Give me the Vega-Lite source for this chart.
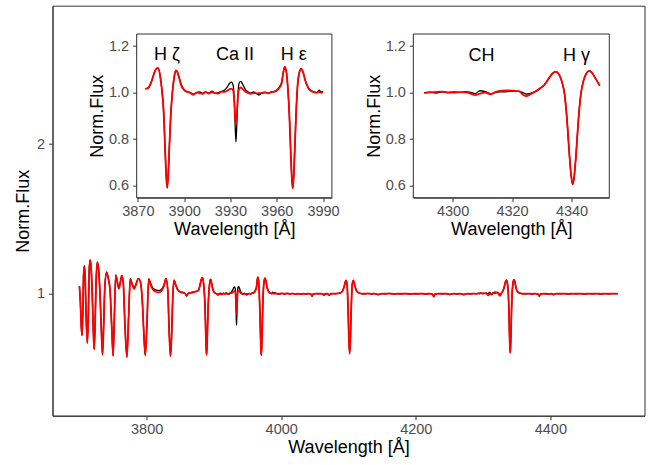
{
"$schema": "https://vega.github.io/schema/vega-lite/v6.json",
"width": 592, "height": 410,
"autosize": {"type": "none"},
"padding": {"left": 52.5, "top": 5.7, "right": 14.5, "bottom": 49.3},
"background": "white",
"config": {
  "view": {"stroke": "#333333", "strokeWidth": 1},
  "axis": {"grid": false, "domainColor": "#333333", "tickColor": "#333333", "tickSize": 4, "labelColor": "#4d4d4d", "labelFont": "Liberation Sans", "labelFontSize": 14.5, "titleFont": "Liberation Sans", "titleFontSize": 18, "titleFontWeight": "normal", "titleColor": "#000000", "labelFlush": false, "labelOverlap": false},
  "text": {"font": "Liberation Sans", "fontSize": 18, "color": "#000000"}
},
"datasets": {
"spec": [
{"w":3700.0,"o":1.05,"m":1.05},{"w":3701.5,"o":0.93,"m":0.94},{"w":3702.8,"o":0.78,"m":0.78},{"w":3703.9,"o":0.72,"m":0.72},{"w":3705.0,"o":0.86,"m":0.85},{"w":3706.2,"o":1.13,"m":1.12},{"w":3707.3,"o":1.185,"m":1.183},{"w":3708.6,"o":1.10,"m":1.10},{"w":3710.0,"o":0.84,"m":0.85},{"w":3711.8,"o":0.67,"m":0.669},{"w":3713.3,"o":0.86,"m":0.86},{"w":3714.6,"o":1.16,"m":1.15},{"w":3715.8,"o":1.225,"m":1.223},{"w":3717.3,"o":1.18,"m":1.18},{"w":3719.2,"o":0.98,"m":0.98},{"w":3720.6,"o":0.76,"m":0.76},{"w":3721.9,"o":0.627,"m":0.627},{"w":3723.2,"o":0.78,"m":0.78},{"w":3724.8,"o":1.08,"m":1.08},{"w":3726.6,"o":1.21,"m":1.211},{"w":3728.4,"o":1.17,"m":1.165},{"w":3730.6,"o":1.0,"m":1.0},{"w":3732.6,"o":0.76,"m":0.76},{"w":3734.3,"o":0.591,"m":0.591},{"w":3736.0,"o":0.78,"m":0.78},{"w":3737.9,"o":1.06,"m":1.05},{"w":3740.5,"o":1.145,"m":1.138},{"w":3743.0,"o":1.10,"m":1.10},{"w":3745.6,"o":1.02,"m":1.02},{"w":3748.0,"o":0.78,"m":0.78},{"w":3750.1,"o":0.584,"m":0.584},{"w":3752.0,"o":0.85,"m":0.85},{"w":3754.0,"o":1.125,"m":1.122},{"w":3756.4,"o":1.08,"m":1.075},{"w":3758.6,"o":1.035,"m":1.033},{"w":3761.0,"o":1.08,"m":1.08},{"w":3763.0,"o":1.12,"m":1.12},{"w":3765.2,"o":1.07,"m":1.07},{"w":3767.6,"o":0.80,"m":0.80},{"w":3770.6,"o":0.575,"m":0.575},{"w":3773.2,"o":0.85,"m":0.85},{"w":3775.6,"o":1.10,"m":1.096},{"w":3778.5,"o":1.065,"m":1.06},{"w":3781.2,"o":1.04,"m":1.03},{"w":3784.2,"o":1.065,"m":1.06},{"w":3787.6,"o":1.10,"m":1.10},{"w":3790.6,"o":1.08,"m":1.08},{"w":3793.5,"o":0.95,"m":0.95},{"w":3795.6,"o":0.75,"m":0.75},{"w":3797.9,"o":0.586,"m":0.586},{"w":3800.4,"o":0.80,"m":0.80},{"w":3803.0,"o":1.10,"m":1.096},{"w":3805.8,"o":1.07,"m":1.06},{"w":3809.5,"o":1.035,"m":1.025},{"w":3813.5,"o":1.025,"m":1.012},{"w":3817.5,"o":1.02,"m":1.008},{"w":3821.5,"o":1.025,"m":1.015},{"w":3825.5,"o":1.055,"m":1.05},{"w":3828.7,"o":1.10,"m":1.10},{"w":3831.4,"o":1.02,"m":1.02},{"w":3833.4,"o":0.75,"m":0.75},{"w":3835.4,"o":0.58,"m":0.58},{"w":3837.3,"o":0.75,"m":0.75},{"w":3839.0,"o":1.0,"m":1.0},{"w":3840.7,"o":1.09,"m":1.09},{"w":3843.0,"o":1.06,"m":1.06},{"w":3846.2,"o":1.025,"m":1.025},{"w":3850.0,"o":1.012,"m":1.01},{"w":3854.5,"o":1.008,"m":1.005},{"w":3857.5,"o":1.0,"m":0.998},{"w":3859.4,"o":0.985,"m":0.985},{"w":3861.5,"o":1.0,"m":1.0},{"w":3865.5,"o":1.006,"m":1.004},{"w":3869.5,"o":1.012,"m":1.01},{"w":3872.5,"o":1.014,"m":1.013},
{"w":3874.9,"o":1.016,"m":1.016},{"w":3876.9,"o":1.02,"m":1.022},{"w":3879.0,"o":1.05,"m":1.052},{"w":3881.2,"o":1.095,"m":1.095},{"w":3883.0,"o":1.106,"m":1.106},{"w":3884.5,"o":1.07,"m":1.07},{"w":3885.6,"o":1.01,"m":1.01},{"w":3886.6,"o":0.93,"m":0.93},{"w":3887.7,"o":0.75,"m":0.75},{"w":3888.4,"o":0.64,"m":0.64},{"w":3889.0,"o":0.59,"m":0.59},{"w":3889.7,"o":0.65,"m":0.65},{"w":3890.5,"o":0.78,"m":0.78},{"w":3891.3,"o":0.90,"m":0.90},{"w":3892.1,"o":0.98,"m":0.98},{"w":3893.4,"o":1.06,"m":1.06},{"w":3894.6,"o":1.095,"m":1.095},{"w":3895.5,"o":1.09,"m":1.09},{"w":3896.5,"o":1.07,"m":1.07},{"w":3898.1,"o":1.035,"m":1.03},{"w":3900.1,"o":1.012,"m":1.01},{"w":3902.0,"o":1.004,"m":1.003},{"w":3904.0,"o":1.0,"m":0.998},{"w":3906.0,"o":0.993,"m":0.99},{"w":3908.0,"o":1.0,"m":1.0},{"w":3910.0,"o":1.003,"m":0.997},{"w":3912.0,"o":0.997,"m":0.995},{"w":3914.0,"o":1.003,"m":1.002},{"w":3916.0,"o":0.998,"m":0.996},{"w":3918.0,"o":1.006,"m":1.002},{"w":3920.0,"o":0.997,"m":0.998},{"w":3922.0,"o":1.0,"m":0.996},{"w":3924.0,"o":1.005,"m":1.003},{"w":3926.0,"o":1.01,"m":1.003},{"w":3928.0,"o":1.025,"m":1.008},{"w":3929.5,"o":1.04,"m":1.015},{"w":3930.7,"o":1.045,"m":1.017},{"w":3931.8,"o":1.03,"m":1.008},{"w":3932.6,"o":0.95,"m":0.95},{"w":3933.1,"o":0.85,"m":0.89},{"w":3933.6,"o":0.788,"m":0.862},{"w":3934.1,"o":0.86,"m":0.9},{"w":3934.7,"o":0.97,"m":0.97},{"w":3935.6,"o":1.04,"m":1.015},{"w":3936.7,"o":1.048,"m":1.022},{"w":3938.0,"o":1.035,"m":1.015},{"w":3939.5,"o":1.015,"m":1.005},{"w":3941.0,"o":1.005,"m":1.0},{"w":3943.0,"o":0.998,"m":0.995},{"w":3945.0,"o":1.003,"m":0.998},{"w":3947.0,"o":0.995,"m":0.997},{"w":3948.7,"o":0.99,"m":0.998},{"w":3950.5,"o":1.0,"m":0.998},{"w":3952.5,"o":1.002,"m":1.0},{"w":3954.5,"o":0.997,"m":0.997},{"w":3956.5,"o":1.003,"m":1.002},{"w":3958.5,"o":1.005,"m":1.004},{"w":3960.3,"o":1.012,"m":1.01},{"w":3961.8,"o":1.025,"m":1.022},{"w":3963.2,"o":1.045,"m":1.04},{"w":3964.3,"o":1.09,"m":1.088},{"w":3965.2,"o":1.11,"m":1.11},{"w":3966.2,"o":1.09,"m":1.09},{"w":3967.2,"o":1.02,"m":1.02},{"w":3968.2,"o":0.9,"m":0.9},{"w":3969.2,"o":0.72,"m":0.72},{"w":3969.8,"o":0.63,"m":0.63},{"w":3970.4,"o":0.588,"m":0.588},{"w":3971.0,"o":0.64,"m":0.64},{"w":3971.7,"o":0.76,"m":0.76},{"w":3972.6,"o":0.92,"m":0.92},{"w":3973.5,"o":1.03,"m":1.03},{"w":3974.6,"o":1.085,"m":1.085},{"w":3975.9,"o":1.103,"m":1.103},{"w":3977.2,"o":1.085,"m":1.085},{"w":3978.6,"o":1.05,"m":1.05},{"w":3980.2,"o":1.025,"m":1.022},{"w":3982.0,"o":1.01,"m":1.008},{"w":3984.0,"o":1.003,"m":1.002},{"w":3986.0,"o":1.0,"m":1.0},{"w":3987.5,"o":1.01,"m":1.002},{"w":3988.8,"o":1.002,"m":1.0},{"w":3990.0,"o":1.006,"m":1.0},
{"w":3993.0,"o":1.0,"m":1.0},{"w":3997.0,"o":0.996,"m":0.998},{"w":4001.0,"o":1.003,"m":1.0},{"w":4005.0,"o":0.997,"m":0.999},{"w":4009.0,"o":1.003,"m":1.0},{"w":4013.0,"o":0.997,"m":0.998},{"w":4017.0,"o":1.002,"m":1.0},{"w":4021.0,"o":0.996,"m":0.997},{"w":4025.0,"o":1.0,"m":0.999},{"w":4029.0,"o":0.995,"m":0.996},{"w":4033.0,"o":1.0,"m":0.999},{"w":4037.0,"o":0.997,"m":0.998},{"w":4041.0,"o":1.0,"m":1.0},{"w":4044.3,"o":0.995,"m":0.996},{"w":4045.8,"o":0.982,"m":0.984},{"w":4047.3,"o":0.997,"m":0.997},{"w":4051.0,"o":1.0,"m":1.0},{"w":4055.0,"o":0.998,"m":0.999},{"w":4059.0,"o":1.0,"m":1.0},{"w":4062.3,"o":0.996,"m":0.996},{"w":4063.6,"o":0.988,"m":0.99},{"w":4065.0,"o":0.998,"m":0.998},{"w":4068.5,"o":1.0,"m":0.999},{"w":4071.7,"o":0.988,"m":0.99},{"w":4073.5,"o":0.998,"m":0.999},{"w":4077.0,"o":1.0,"m":1.0},{"w":4081.0,"o":0.999,"m":1.0},{"w":4085.0,"o":1.002,"m":1.001},{"w":4088.5,"o":1.006,"m":1.006},{"w":4091.5,"o":1.02,"m":1.02},{"w":4094.0,"o":1.055,"m":1.055},{"w":4096.2,"o":1.089,"m":1.089},{"w":4097.9,"o":1.06,"m":1.06},{"w":4099.6,"o":0.86,"m":0.86},{"w":4100.7,"o":0.68,"m":0.68},{"w":4101.7,"o":0.598,"m":0.598},{"w":4102.7,"o":0.68,"m":0.68},{"w":4103.8,"o":0.86,"m":0.86},{"w":4105.5,"o":1.06,"m":1.06},{"w":4107.2,"o":1.089,"m":1.089},{"w":4109.3,"o":1.055,"m":1.055},{"w":4111.8,"o":1.02,"m":1.02},{"w":4115.0,"o":1.006,"m":1.005},{"w":4119.0,"o":1.0,"m":1.0},{"w":4124.0,"o":0.998,"m":0.999},{"w":4129.0,"o":1.001,"m":1.0},{"w":4134.0,"o":0.997,"m":0.998},{"w":4139.0,"o":1.0,"m":1.0},{"w":4143.9,"o":0.993,"m":0.994},{"w":4149.0,"o":1.0,"m":1.0},{"w":4155.0,"o":0.998,"m":0.999},{"w":4161.0,"o":1.001,"m":1.0},{"w":4167.0,"o":0.997,"m":0.998},{"w":4173.0,"o":1.0,"m":0.999},{"w":4179.0,"o":0.998,"m":0.999},{"w":4185.0,"o":1.0,"m":1.0},{"w":4191.0,"o":0.997,"m":0.998},{"w":4197.0,"o":1.0,"m":0.999},{"w":4203.0,"o":0.998,"m":0.999},{"w":4209.0,"o":1.0,"m":1.0},{"w":4215.0,"o":0.997,"m":0.998},{"w":4221.0,"o":1.0,"m":1.0},{"w":4225.0,"o":0.994,"m":0.995},{"w":4226.7,"o":0.978,"m":0.98},{"w":4228.4,"o":0.996,"m":0.996},{"w":4233.0,"o":1.0,"m":1.0},{"w":4239.0,"o":0.998,"m":0.999},{"w":4245.0,"o":1.0,"m":1.0},{"w":4250.5,"o":0.994,"m":0.995},{"w":4256.0,"o":1.0,"m":1.0},{"w":4261.0,"o":0.997,"m":0.998},{"w":4266.0,"o":1.0,"m":1.0},{"w":4271.2,"o":0.993,"m":0.994},{"w":4276.0,"o":1.0,"m":1.0},{"w":4281.0,"o":0.997,"m":0.998},{"w":4285.5,"o":1.0,"m":1.0},
{"w":4290.5,"o":1.0,"m":0.998},{"w":4292.5,"o":1.002,"m":1.001},{"w":4294.5,"o":0.998,"m":1.003},{"w":4296.5,"o":1.003,"m":1.004},{"w":4298.5,"o":1.0,"m":1.001},{"w":4300.5,"o":1.003,"m":1.0},{"w":4302.5,"o":1.001,"m":1.002},{"w":4304.5,"o":1.004,"m":1.001},{"w":4306.0,"o":1.001,"m":0.996},{"w":4307.6,"o":0.996,"m":0.989},{"w":4309.2,"o":1.008,"m":0.996},{"w":4311.0,"o":1.004,"m":1.0},{"w":4312.8,"o":0.995,"m":0.993},{"w":4314.5,"o":1.001,"m":1.003},{"w":4316.5,"o":1.003,"m":1.008},{"w":4318.5,"o":1.004,"m":1.009},{"w":4320.5,"o":1.006,"m":1.008},{"w":4322.3,"o":1.005,"m":1.006},{"w":4323.8,"o":0.999,"m":0.99},{"w":4324.8,"o":0.994,"m":0.985},{"w":4326.2,"o":0.997,"m":0.993},{"w":4327.8,"o":1.004,"m":1.005},{"w":4329.3,"o":1.016,"m":1.018},{"w":4330.8,"o":1.032,"m":1.032},{"w":4332.3,"o":1.06,"m":1.06},{"w":4333.6,"o":1.082,"m":1.082},{"w":4334.7,"o":1.09,"m":1.09},{"w":4335.8,"o":1.078,"m":1.078},{"w":4336.8,"o":1.045,"m":1.045},{"w":4337.7,"o":0.99,"m":0.99},{"w":4338.5,"o":0.88,"m":0.88},{"w":4339.3,"o":0.73,"m":0.73},{"w":4339.9,"o":0.64,"m":0.64},{"w":4340.4,"o":0.605,"m":0.605},{"w":4340.9,"o":0.64,"m":0.64},{"w":4341.5,"o":0.73,"m":0.73},{"w":4342.3,"o":0.88,"m":0.88},{"w":4343.1,"o":0.99,"m":0.99},{"w":4344.0,"o":1.05,"m":1.05},{"w":4345.0,"o":1.083,"m":1.083},{"w":4345.9,"o":1.093,"m":1.093},{"w":4346.9,"o":1.085,"m":1.085},{"w":4348.1,"o":1.06,"m":1.06},{"w":4349.5,"o":1.03,"m":1.03},
{"w":4351.5,"o":1.012,"m":1.012},{"w":4354.0,"o":1.004,"m":1.004},{"w":4358.0,"o":1.0,"m":1.0},{"w":4363.0,"o":0.998,"m":0.999},{"w":4368.0,"o":1.0,"m":1.0},{"w":4373.0,"o":0.997,"m":0.998},{"w":4378.0,"o":1.0,"m":1.0},{"w":4382.0,"o":0.994,"m":0.995},{"w":4383.5,"o":0.982,"m":0.983},{"w":4385.0,"o":0.996,"m":0.997},{"w":4390.0,"o":1.0,"m":1.0},{"w":4396.0,"o":0.997,"m":0.998},{"w":4402.0,"o":1.0,"m":0.999},{"w":4404.8,"o":0.993,"m":0.994},{"w":4409.0,"o":1.0,"m":1.0},{"w":4415.0,"o":0.998,"m":0.999},{"w":4421.0,"o":1.0,"m":1.0},{"w":4427.0,"o":0.997,"m":0.998},{"w":4433.0,"o":1.0,"m":1.0},{"w":4439.0,"o":0.998,"m":0.999},{"w":4445.0,"o":1.0,"m":1.0},{"w":4451.0,"o":0.997,"m":0.998},{"w":4457.0,"o":1.0,"m":1.0},{"w":4463.0,"o":0.998,"m":0.999},{"w":4469.0,"o":1.0,"m":1.0},{"w":4475.0,"o":0.997,"m":0.998},{"w":4481.0,"o":1.0,"m":1.0},{"w":4487.0,"o":0.998,"m":0.999},{"w":4493.0,"o":1.0,"m":1.0},{"w":4500.0,"o":0.999,"m":1.0}
],
"box1": [{"w":3869.25,"w2":3995.75,"f":0.548,"f2":1.252}],
"box2": [{"w":4286.8,"w2":4352.7,"f":0.548,"f2":1.252}],
"lab1": [{"w":3888.8,"f":1.163,"t":"H ζ"},{"w":3933,"f":1.163,"t":"Ca II"},{"w":3971,"f":1.163,"t":"H ε"}],
"lab2": [{"w":4309.7,"f":1.158,"t":"CH"},{"w":4341.7,"f":1.158,"t":"H γ"}]
},
"layer": [
  {
    "data": {"name": "spec"},
    "encoding": {
      "x": {"field": "w", "type": "quantitative", "scale": {"domain": [3660, 4540], "nice": false, "zero": false}, "axis": {"orient": "bottom", "title": "Wavelength [Å]", "values": [3800, 4000, 4200, 4400], "format": "d", "labelPadding": 3, "titlePadding": 2}}
    },
    "layer": [
      {"mark": {"type": "line", "color": "#000000", "strokeWidth": 1.3, "interpolate": "monotone"},
       "encoding": {"y": {"field": "o", "type": "quantitative", "scale": {"domain": [0.183, 2.926], "nice": false, "zero": false}, "axis": {"orient": "left", "title": "Norm.Flux", "values": [1, 2], "format": "d", "labelPadding": 4, "titlePadding": 4}}}},
      {"mark": {"type": "line", "color": "#ff0000", "strokeWidth": 1.8, "interpolate": "monotone"},
       "encoding": {"y": {"field": "m", "type": "quantitative", "title": "Norm.Flux"}}}
    ]
  },
  {
    "encoding": {
      "x": {"field": "w", "type": "quantitative", "scale": {"domain": [3869.25, 3995.75], "range": [84.2, 279.4], "nice": false, "zero": false}, "axis": {"orient": "bottom", "offset": -218, "title": "Wavelength [Å]", "values": [3870, 3900, 3930, 3960, 3990], "format": "d", "labelPadding": 3, "titlePadding": 2}},
      "y": {"field": "f", "type": "quantitative", "scale": {"domain": [0.548, 1.252], "range": [192, 28.3], "nice": false, "zero": false}, "axis": {"orient": "left", "offset": -84.2, "title": "Norm.Flux", "values": [0.6, 0.8, 1.0, 1.2], "format": ".1f", "labelPadding": 4, "titlePadding": 2}}
    },
    "layer": [
      {"data": {"name": "box1"}, "mark": {"type": "rect", "fill": "#ffffff", "stroke": "#333333", "strokeWidth": 1},
       "encoding": {"x2": {"field": "w2"}, "y2": {"field": "f2"}}},
      {"data": {"name": "spec"}, "transform": [{"filter": "datum.w >= 3874 && datum.w <= 3991"}],
       "mark": {"type": "line", "color": "#000000", "strokeWidth": 1.3, "interpolate": "monotone"},
       "encoding": {"y": {"field": "o", "type": "quantitative", "title": "Norm.Flux"}}},
      {"data": {"name": "spec"}, "transform": [{"filter": "datum.w >= 3874 && datum.w <= 3991"}],
       "mark": {"type": "line", "color": "#ff0000", "strokeWidth": 1.8, "interpolate": "monotone"},
       "encoding": {"y": {"field": "m", "type": "quantitative", "title": "Norm.Flux"}}},
      {"data": {"name": "lab1"}, "mark": {"type": "text", "align": "center", "baseline": "middle", "font": "Liberation Sans", "fontSize": 18},
       "encoding": {"text": {"field": "t"}}}
    ]
  },
  {
    "encoding": {
      "x": {"field": "w", "type": "quantitative", "scale": {"domain": [4286.8, 4352.7], "range": [360.8, 556.8], "nice": false, "zero": false}, "axis": {"orient": "bottom", "offset": -218, "title": "Wavelength [Å]", "values": [4300, 4320, 4340], "format": "d", "labelPadding": 3, "titlePadding": 2}},
      "y": {"field": "f", "type": "quantitative", "scale": {"domain": [0.548, 1.252], "range": [192, 28.3], "nice": false, "zero": false}, "axis": {"orient": "left", "offset": -360.8, "title": "Norm.Flux", "values": [0.6, 0.8, 1.0, 1.2], "format": ".1f", "labelPadding": 4, "titlePadding": 2}}
    },
    "layer": [
      {"data": {"name": "box2"}, "mark": {"type": "rect", "fill": "#ffffff", "stroke": "#333333", "strokeWidth": 1},
       "encoding": {"x2": {"field": "w2"}, "y2": {"field": "f2"}}},
      {"data": {"name": "spec"}, "transform": [{"filter": "datum.w >= 4290 && datum.w <= 4350"}],
       "mark": {"type": "line", "color": "#000000", "strokeWidth": 1.3, "interpolate": "monotone"},
       "encoding": {"y": {"field": "o", "type": "quantitative", "title": "Norm.Flux"}}},
      {"data": {"name": "spec"}, "transform": [{"filter": "datum.w >= 4290 && datum.w <= 4350"}],
       "mark": {"type": "line", "color": "#ff0000", "strokeWidth": 1.8, "interpolate": "monotone"},
       "encoding": {"y": {"field": "m", "type": "quantitative", "title": "Norm.Flux"}}},
      {"data": {"name": "lab2"}, "mark": {"type": "text", "align": "center", "baseline": "middle", "font": "Liberation Sans", "fontSize": 18},
       "encoding": {"text": {"field": "t"}}}
    ]
  }
],
"resolve": {"scale": {"x": "independent", "y": "independent"}, "axis": {"x": "independent", "y": "independent"}}
}
